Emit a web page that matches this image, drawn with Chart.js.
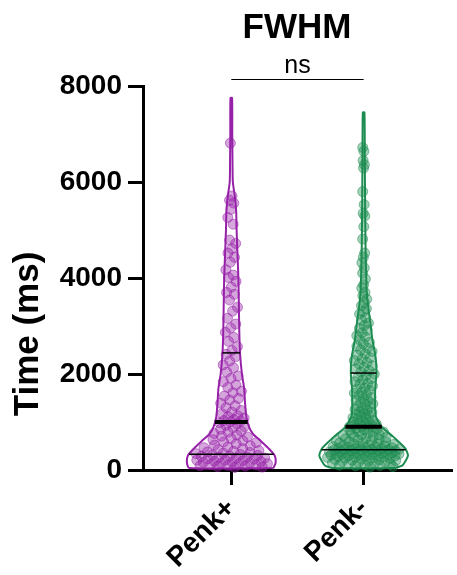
<!DOCTYPE html>
<html lang="en">
<head>
<meta charset="UTF-8">
<title>FWHM</title>
<script src="https://cdn.jsdelivr.net/npm/chart.js"></script>
<style>
  body { margin: 0; background: #fff; }
  .chart-box { width: 457px; height: 575px; }
</style>
</head>
<body>
<div class="chart-box"><canvas id="fwhmChart" width="457" height="575"></canvas></div>
<script>
// categories and values (ms)
const categories = ['Penk+', 'Penk-'];

const penkPlus = [
  6810, 5710, 5620, 5560, 5430, 5260, 5120,
  4790, 4720, 4610, 4520, 4430, 4330, 4170, 4060, 4010,
  3930, 3810, 3700, 3660, 3540, 3390, 3310, 3160, 3040,
  2960, 2870, 2760, 2680, 2570, 2490,
  2410, 2360, 2270, 2190, 2130, 2040, 1960, 1910, 1840, 1770, 1720, 1640, 1610, 1540,
  1490, 1460, 1390, 1340, 1300, 1240, 1210, 1170, 1130, 1110, 1080, 1050, 1030, 1020, 1005,
  985, 960, 930, 905, 880, 850, 810, 790, 760, 730, 705, 690, 655, 630, 610,
  585, 570, 545, 520, 505, 480, 465, 445, 425, 405, 390, 375, 365, 350, 340,
  325, 315, 305, 290, 285, 270, 262, 250, 245, 232, 225, 210, 205, 195, 182,
  175, 168, 160, 148, 140, 132, 120, 112, 104, 96, 88, 80, 72, 60, 52
];

const penkMinus = [
  6720, 6640, 6450, 6360, 6290, 5800, 5530, 5350, 5290, 5070, 4810, 4520, 4430, 4320,
  4210, 4100, 3980, 3860, 3790, 3700, 3630, 3560, 3490, 3420, 3360, 3300, 3250, 3170,
  3120, 3060, 3010, 2950, 2910, 2860, 2800, 2770, 2710, 2660, 2630, 2580, 2540, 2500,
  2470, 2420, 2390, 2340, 2310, 2280, 2240, 2210, 2170, 2140, 2110, 2070, 2040,
  2000, 1970, 1930, 1900, 1880, 1840, 1800, 1790, 1750, 1710, 1690, 1660, 1620, 1600,
  1570, 1550, 1510, 1490, 1460, 1440, 1410, 1380, 1360, 1330, 1310, 1280, 1260, 1240,
  1210, 1200, 1170, 1160, 1130, 1120, 1090, 1080, 1060, 1030, 1020, 1000, 990, 970,
  960, 940, 930, 915, 910, 900,
  890, 870, 860, 840, 830, 810, 800, 790, 770, 760, 740, 730, 720, 700, 690, 675,
  665, 650, 640, 625, 615, 600, 590, 585, 570, 560, 545, 540, 530, 515, 510, 500,
  495, 485, 480, 470, 465, 460, 450, 445, 440, 432, 428, 425, 421, 418, 414, 410,
  406, 400, 396, 390, 384, 380, 376, 370, 364, 360, 355, 350, 346, 340, 334, 330,
  326, 320, 315, 310, 304, 300, 295, 288, 284, 276, 270, 262, 254, 248, 240, 228,
  220, 212, 204, 196, 184, 176, 168, 158, 150, 140, 130, 122, 112, 100, 92, 84, 72, 60
];

// quartiles [Q1, median, Q3]
const plusQuartiles = [330, 1000, 2440];
const minusQuartiles = [420, 900, 2020];

// violin outlines: value levels and relative density (1 = widest)
const plusLevels  = [40, 150, 300, 450, 600, 750, 900, 1100, 1400, 1700, 2000, 2400, 2900, 3500, 4000, 4500, 5000, 5400, 5700, 6000, 6500, 7000, 7750];
const plusDensity = [0.95, 1, 0.98, 0.84, 0.67, 0.49, 0.4, 0.34, 0.31, 0.29, 0.24, 0.2, 0.18, 0.17, 0.16, 0.14, 0.12, 0.11, 0.08, 0.035, 0.027, 0.022, 0.018];
const minusLevels  = [40, 100, 300, 460, 690, 900, 1100, 1250, 1670, 2020, 2350, 2700, 3000, 3500, 3800, 4500, 5500, 6500, 7450];
const minusDensity = [0.7, 0.88, 1, 0.93, 0.67, 0.41, 0.28, 0.26, 0.26, 0.29, 0.27, 0.2, 0.16, 0.09, 0.065, 0.045, 0.033, 0.026, 0.018];

const yTicks = [0, 2000, 4000, 6000, 8000];

const purple = 'rgb(150, 32, 168)';
const green = 'rgb(28, 140, 80)';
const maxHalf = 0.335; // widest half-width, in category units

function halfWidth(v, levels, dens) {
  if (v <= levels[0]) return dens[0] * maxHalf;
  for (let i = 1; i < levels.length; i++) {
    if (v <= levels[i]) {
      const t = (v - levels[i - 1]) / (levels[i] - levels[i - 1]);
      return (dens[i - 1] + t * (dens[i] - dens[i - 1])) * maxHalf;
    }
  }
  return dens[dens.length - 1] * maxHalf;
}

function outline(center, levels, dens) {
  const right = levels.map((l, i) => ({ x: center + dens[i] * maxHalf, y: l }));
  const left = levels.map((l, i) => ({ x: center - dens[i] * maxHalf, y: l })).reverse();
  return [...right, ...left, right[0]];
}

// spread points sideways inside the violin
function spread(values, center, levels, dens) {
  return values.map((v, i) => {
    const u = ((i * 0.618034) % 1) * 2 - 1;
    return { x: center + u * halfWidth(v, levels, dens) * 0.85, y: v };
  });
}

function quartileLine(center, q, levels, dens) {
  const hw = halfWidth(q, levels, dens);
  return [{ x: center - hw, y: q }, { x: center + hw, y: q }];
}

const datasets = [];
[[1, plusQuartiles, plusLevels, plusDensity], [2, minusQuartiles, minusLevels, minusDensity]].forEach(([c, qs, lv, dn]) => {
  qs.forEach((q, k) => {
    datasets.push({
      data: quartileLine(c, q, lv, dn),
      showLine: true,
      pointRadius: 0,
      borderColor: '#000',
      borderWidth: k === 1 ? 4 : 1.5,
      order: 0
    });
  });
});

datasets.push({
  data: outline(1, plusLevels, plusDensity),
  showLine: true, pointRadius: 0, borderColor: purple, borderWidth: 2, tension: 0.2, clip: false, order: 1
});
datasets.push({
  data: outline(2, minusLevels, minusDensity),
  showLine: true, pointRadius: 0, borderColor: green, borderWidth: 2, tension: 0.2, clip: false, order: 1
});
datasets.push({
  data: spread(penkPlus, 1, plusLevels, plusDensity),
  pointRadius: 5, borderWidth: 1,
  backgroundColor: 'rgba(150, 32, 168, 0.4)', borderColor: 'rgba(150, 32, 168, 0.5)',
  clip: false, order: 2
});
datasets.push({
  data: spread(penkMinus, 2, minusLevels, minusDensity),
  pointRadius: 5, borderWidth: 1,
  backgroundColor: 'rgba(28, 140, 80, 0.4)', borderColor: 'rgba(28, 140, 80, 0.5)',
  clip: false, order: 2
});

// title, significance bracket and y-axis title
const annotations = {
  id: 'annotations',
  afterDraw(chart) {
    const { ctx, chartArea, scales: { x } } = chart;
    const x1 = x.getPixelForValue(1);
    const x2 = x.getPixelForValue(2);
    ctx.save();
    ctx.fillStyle = '#000';
    ctx.textAlign = 'center';
    ctx.textBaseline = 'alphabetic';
    ctx.font = 'bold 35px Arial, "Liberation Sans", sans-serif';
    ctx.fillText('FWHM', (chartArea.left + chartArea.right) / 2, 38);
    ctx.font = '25px Arial, "Liberation Sans", sans-serif';
    ctx.fillText('ns', (x1 + x2) / 2, 73);
    ctx.strokeStyle = '#000';
    ctx.lineWidth = 1;
    ctx.beginPath();
    ctx.moveTo(x1, 79.5);
    ctx.lineTo(x2, 79.5);
    ctx.stroke();
    ctx.translate(28, 334);
    ctx.rotate(-Math.PI / 2);
    ctx.textBaseline = 'middle';
    ctx.font = 'bold 35px Arial, "Liberation Sans", sans-serif';
    ctx.fillText('Time (ms)', 0, 0);
    ctx.restore();
  }
};

const ctx = document.getElementById('fwhmChart').getContext('2d');
new Chart(ctx, {
  type: 'scatter',
  data: { datasets },
  options: {
    responsive: false,
    animation: false,
    devicePixelRatio: 1,
    layout: { padding: { top: 86, right: 0, bottom: 0, left: 0 } },
    plugins: { legend: { display: false }, tooltip: { enabled: false } },
    scales: {
      x: {
        type: 'linear',
        min: 0.333,
        max: 2.66,
        afterBuildTicks: (scale) => { scale.ticks = [{ value: 1 }, { value: 2 }]; },
        afterFit: (scale) => { scale.height = 105; },
        ticks: {
          callback: (v) => categories[v - 1],
          autoSkip: false,
          minRotation: 45,
          maxRotation: 45,
          padding: 7,
          color: '#000',
          font: { family: 'Arial, "Liberation Sans", sans-serif', size: 28, weight: 'bold' }
        },
        grid: { drawOnChartArea: false, tickLength: 15, color: '#000', lineWidth: 3 },
        border: { color: '#000', width: 3 }
      },
      y: {
        min: 0,
        max: 8000,
        afterBuildTicks: (scale) => { scale.ticks = yTicks.map(v => ({ value: v })); },
        afterFit: (scale) => { scale.width = 143; },
        ticks: {
          callback: (v) => String(v),
          padding: 6,
          color: '#000',
          font: { family: 'Arial, "Liberation Sans", sans-serif', size: 28, weight: 'bold' }
        },
        grid: { drawOnChartArea: false, tickLength: 15, color: '#000', lineWidth: 3 },
        border: { color: '#000', width: 3 }
      }
    }
  },
  plugins: [annotations]
});
</script>
</body>
</html>
